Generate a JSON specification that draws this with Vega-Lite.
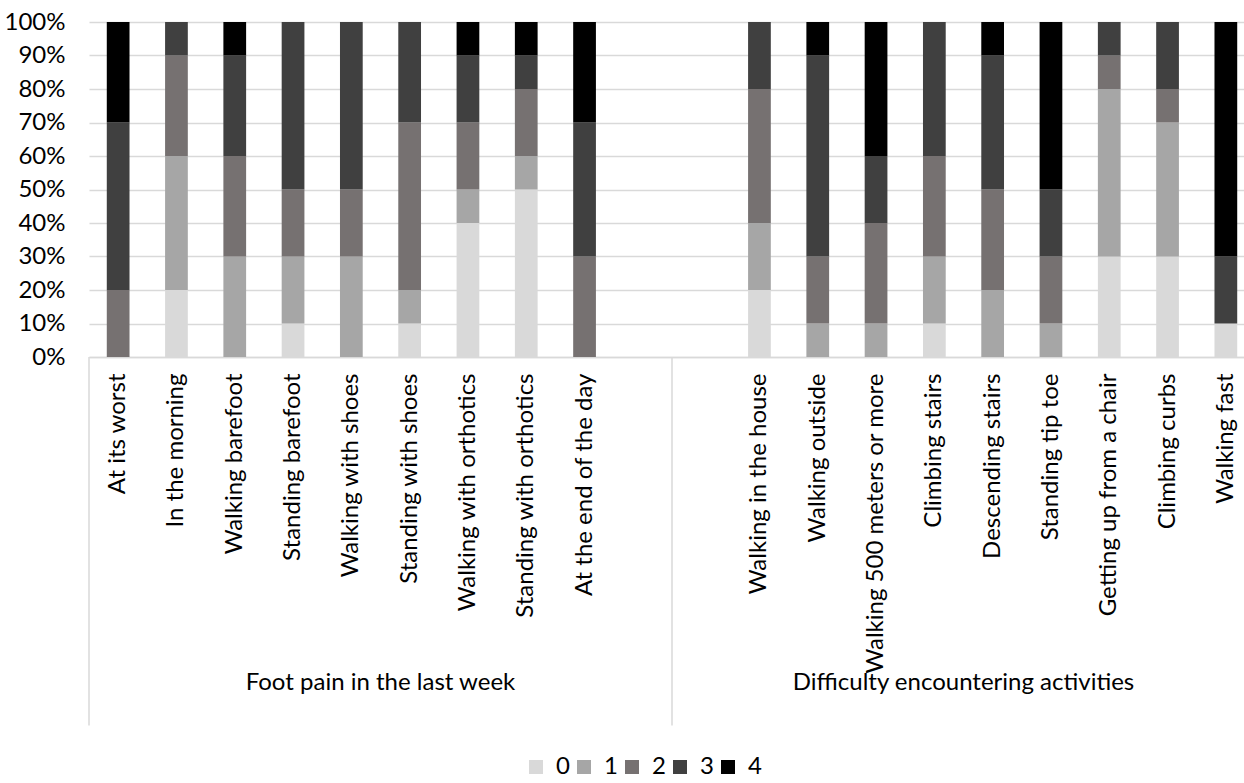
{
  "$schema": "https://vega.github.io/schema/vega-lite/v6.json",
  "width": 1155,
  "height": 335,
  "autosize": {"type": "none"},
  "padding": {"left": 89, "top": 22, "right": 0, "bottom": 426},
  "background": "white",
  "config": {"font": "Lato", "view": {"stroke": null}},
  "datasets": {
    "bars": [
      {"item": "At its worst", "0": 0, "1": 0, "2": 20, "3": 50, "4": 30},
      {"item": "In the morning", "0": 20, "1": 40, "2": 30, "3": 10, "4": 0},
      {"item": "Walking barefoot", "0": 0, "1": 30, "2": 30, "3": 30, "4": 10},
      {"item": "Standing barefoot", "0": 10, "1": 20, "2": 20, "3": 50, "4": 0},
      {"item": "Walking with shoes", "0": 0, "1": 30, "2": 20, "3": 50, "4": 0},
      {"item": "Standing with shoes", "0": 10, "1": 10, "2": 50, "3": 30, "4": 0},
      {"item": "Walking with orthotics", "0": 40, "1": 10, "2": 20, "3": 20, "4": 10},
      {"item": "Standing with orthotics", "0": 50, "1": 10, "2": 20, "3": 10, "4": 10},
      {"item": "At the end of the day", "0": 0, "1": 0, "2": 30, "3": 40, "4": 30},
      {"item": "Walking in the house", "0": 20, "1": 20, "2": 40, "3": 20, "4": 0},
      {"item": "Walking outside", "0": 0, "1": 10, "2": 20, "3": 60, "4": 10},
      {"item": "Walking 500 meters or more", "0": 0, "1": 10, "2": 30, "3": 20, "4": 40},
      {"item": "Climbing stairs", "0": 10, "1": 20, "2": 30, "3": 40, "4": 0},
      {"item": "Descending stairs", "0": 0, "1": 20, "2": 30, "3": 40, "4": 10},
      {"item": "Standing tip toe", "0": 0, "1": 10, "2": 20, "3": 20, "4": 50},
      {"item": "Getting up from a chair", "0": 30, "1": 50, "2": 10, "3": 10, "4": 0},
      {"item": "Climbing curbs", "0": 30, "1": 40, "2": 10, "3": 20, "4": 0},
      {"item": "Walking fast", "0": 10, "1": 0, "2": 0, "3": 20, "4": 70}
    ],
    "groups": [
      {"group": "Foot pain in the last week"},
      {"group": "Difficulty encountering activities"}
    ]
  },
  "layer": [
    {
      "data": {"name": "bars"},
      "transform": [{"fold": ["0", "1", "2", "3", "4"], "as": ["level", "pct"]}],
      "mark": {"type": "bar"},
      "encoding": {
        "x": {
          "field": "item",
          "type": "nominal",
          "sort": null,
          "scale": {
            "domain": ["At its worst", "In the morning", "Walking barefoot", "Standing barefoot", "Walking with shoes", "Standing with shoes", "Walking with orthotics", "Standing with orthotics", "At the end of the day", " ", "  ", "Walking in the house", "Walking outside", "Walking 500 meters or more", "Climbing stairs", "Descending stairs", "Standing tip toe", "Getting up from a chair", "Climbing curbs", "Walking fast"],
            "range": [0, 1166],
            "paddingInner": 0.61,
            "paddingOuter": 0.305
          },
          "axis": {
            "title": null,
            "labelAngle": -90,
            "labelFontSize": 24,
            "labelColor": "black",
            "labelPadding": 16,
            "labelLimit": 0,
            "ticks": false,
            "domainColor": "#d9d9d9",
            "domainWidth": 1.5,
            "grid": false
          }
        },
        "y": {
          "field": "pct",
          "type": "quantitative",
          "stack": "normalize",
          "scale": {"domain": [0, 1]},
          "axis": {
            "title": null,
            "values": [0, 0.1, 0.2, 0.3, 0.4, 0.5, 0.6, 0.7, 0.8, 0.9, 1],
            "format": ".0%",
            "labelFontSize": 24,
            "labelColor": "black",
            "labelPadding": 24,
            "domain": false,
            "ticks": false,
            "grid": true,
            "gridColor": "#d9d9d9",
            "gridWidth": 1.5
          }
        },
        "color": {
          "field": "level",
          "type": "nominal",
          "scale": {"domain": ["0", "1", "2", "3", "4"], "range": ["#d9d9d9", "#a6a6a6", "#767171", "#404040", "#000000"]},
          "legend": {
            "title": null,
            "orient": "none",
            "direction": "horizontal",
            "legendX": 435,
            "legendY": 733,
            "padding": 0,
            "symbolType": "square",
            "symbolSize": 196,
            "symbolStrokeWidth": 0,
            "symbolOpacity": 1,
            "labelFontSize": 24,
            "labelColor": "black",
            "labelOffset": 8,
            "columnPadding": 2
          }
        },
        "order": {"field": "level", "type": "ordinal", "sort": "ascending"}
      }
    },
    {
      "data": {"name": "groups"},
      "layer": [
        {
          "mark": {"type": "rule", "color": "#d9d9d9", "strokeWidth": 1.5},
          "encoding": {
            "x": {
              "field": "group",
              "type": "nominal",
              "sort": null,
              "bandPosition": 0,
              "scale": {"domain": ["Foot pain in the last week", "Difficulty encountering activities"], "range": [0, 1166], "paddingInner": 0, "paddingOuter": 0},
              "axis": null
            },
            "y": {"datum": 0, "type": "quantitative", "scale": {"domain": [0, 1]}, "axis": null},
            "y2": {"datum": -1.1}
          }
        },
        {
          "mark": {"type": "text", "fontSize": 24, "color": "black", "baseline": "middle", "align": "center"},
          "encoding": {
            "x": {
              "field": "group",
              "type": "nominal",
              "sort": null,
              "scale": {"domain": ["Foot pain in the last week", "Difficulty encountering activities"], "range": [0, 1166], "paddingInner": 0, "paddingOuter": 0},
              "axis": null
            },
            "y": {"datum": -0.973, "type": "quantitative", "scale": {"domain": [0, 1]}, "axis": null},
            "text": {"field": "group", "type": "nominal"}
          }
        }
      ]
    }
  ],
  "resolve": {"scale": {"x": "independent"}, "axis": {"x": "independent", "y": "independent"}}
}
